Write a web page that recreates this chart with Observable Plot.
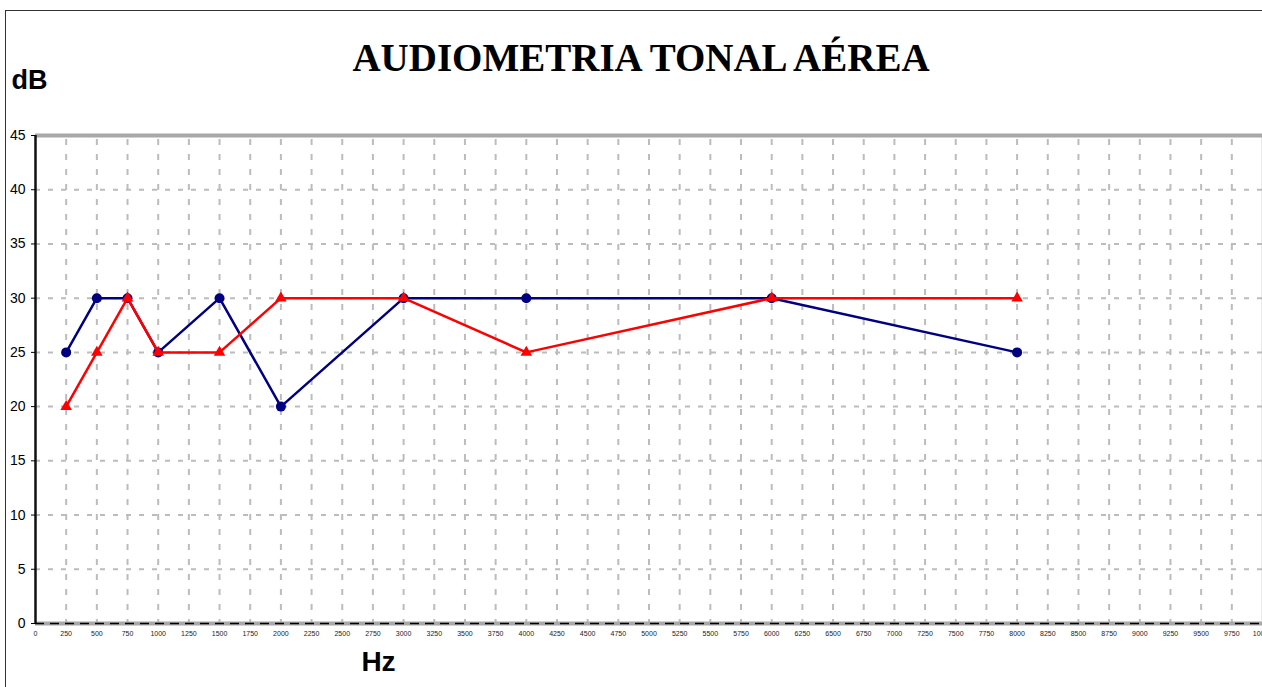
<!DOCTYPE html>
<html>
<head>
<meta charset="utf-8">
<script src="https://cdn.jsdelivr.net/npm/d3@7"></script>
<script src="https://cdn.jsdelivr.net/npm/@observablehq/plot@0.6"></script>
<style>
  html, body { margin: 0; padding: 0; background: #fff; }
  #wrap { position: relative; width: 1262px; height: 687px; overflow: hidden; }
  #border { position: absolute; left: 5px; top: 10px; width: 1300px; height: 700px;
            border-left: 1.5px solid #333; border-top: 1.5px solid #333; pointer-events: none; }
</style>
</head>
<body>
<div id="wrap"><div id="border"></div></div>
<script>
const freqs = [250, 500, 750, 1000, 1500, 2000, 3000, 4000, 6000, 8000];
const blueValues = [25, 30, 30, 25, 30, 20, 30, 30, 30, 25];
const redValues  = [20, 25, 30, 25, 25, 30, 30, 25, 30, 30];
const xTicks = d3.range(0, 10001, 250);
const yTicks = d3.range(0, 46, 5);
const title = "AUDIOMETRIA TONAL AÉREA";
const yLabel = "dB";
const xLabel = "Hz";

const blue = freqs.map((f, i) => ({f, v: blueValues[i]}));
const red = freqs.map((f, i) => ({f, v: redValues[i]}));

const chart = Plot.plot({
  width: 1262,
  height: 687,
  marginLeft: 35,
  marginRight: 0,
  marginTop: 135,
  marginBottom: 64,
  style: {fontFamily: "'Liberation Sans', Arial, sans-serif", background: "transparent", overflow: "visible"},
  x: {domain: [0, 10000]},
  y: {domain: [0, 45]},
  marks: [
    // grid
    Plot.ruleX(xTicks.filter(d => d > 0 && d < 10000), {stroke: "#bcbcbc", strokeWidth: 2, strokeDasharray: "6,9", strokeDashoffset: -4}),
    Plot.ruleY(yTicks.filter(d => d > 0 && d < 45), {stroke: "#bcbcbc", strokeWidth: 2, strokeDasharray: "5,8"}),
    // frame edges
    Plot.ruleY([45], {stroke: "#a8a8a8", strokeWidth: 4}),
    Plot.ruleX([10000], {stroke: "#b0b0b0", strokeWidth: 1.5}),
    Plot.ruleY([0], {stroke: "#a8a8a8", strokeWidth: 4}),
    Plot.ruleY([0], {stroke: "#000", strokeWidth: 1.5, strokeDasharray: "9,6"}),
    Plot.ruleX([0], {stroke: "#111", strokeWidth: 2.5}),
    // axes
    Plot.axisY({ticks: yTicks, tickSize: 4, tickPadding: 6, fontSize: 14, label: null, stroke: "#000"}),
    Plot.axisX({ticks: xTicks, tickSize: 0, tickPadding: 8, fontSize: 7, label: null, tickFormat: d => String(d), fill: "#222"}),
    // series
    Plot.line(blue, {x: "f", y: "v", stroke: "#000080", strokeWidth: 2.5}),
    Plot.dot(blue, {x: "f", y: "v", r: 5, fill: "#000080", stroke: null, symbol: "circle"}),
    Plot.line(red, {x: "f", y: "v", stroke: "#ff0000", strokeWidth: 2.5}),
    Plot.dot(red, {x: "f", y: "v", r: 4.3, fill: "#ff0000", stroke: null, symbol: "triangle"}),
    // texts
    Plot.text([title], {frameAnchor: "top", lineAnchor: "middle", dx: -8, dy: -77, fontSize: 39, fontWeight: "bold",
      fontFamily: "'Liberation Serif', 'Times New Roman', serif", fill: "#000", text: d => d}),
    Plot.text([yLabel], {frameAnchor: "top-left", lineAnchor: "middle", dx: -24, dy: -55, textAnchor: "start", fontSize: 27, fontWeight: "bold", fill: "#000", text: d => d}),
    Plot.text([xLabel], {frameAnchor: "bottom-left", lineAnchor: "middle", dx: 343, dy: 39, textAnchor: "middle", fontSize: 28, fontWeight: "bold", fill: "#000", text: d => d})
  ]
});
chart.style.position = "absolute";
chart.style.left = "0";
chart.style.top = "0";
document.getElementById("wrap").appendChild(chart);
</script>
</body>
</html>
